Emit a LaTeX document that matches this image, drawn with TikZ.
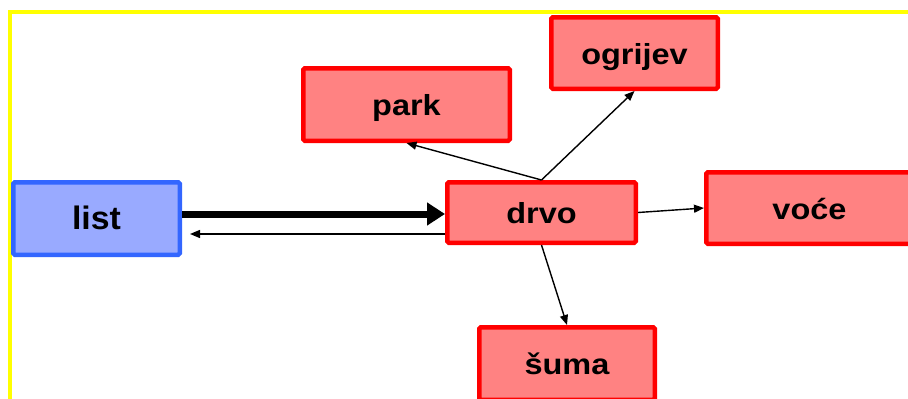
\documentclass[tikz,border=0pt]{standalone}
\usepackage{fontspec}
\setmainfont{Liberation Sans}
\newfontfamily\wordfont{Liberation Sans}[FakeStretch=1.12]
\newfontfamily\rootfont{Liberation Sans}[FakeStretch=1.04]
\usetikzlibrary{arrows.meta}
\definecolor{frameyellow}{HTML}{FFFF00}
\definecolor{boxred}{HTML}{FF0000}
\definecolor{fillred}{HTML}{FF8282}
\definecolor{boxblue}{HTML}{3366FF}
\definecolor{fillblue}{HTML}{99AAFF}
\tikzset{
  wordbox/.style={draw=boxred, fill=fillred, line width=4.5pt, rounded corners=1.5pt,
    inner sep=0pt, text height=26pt, text depth=4pt,
    font=\wordfont\fontsize{29}{29}\selectfont\bfseries},
  rootbox/.style={wordbox, draw=boxblue, fill=fillblue,
    font=\rootfont\fontsize{32.5}{32.5}\selectfont\bfseries},
  link/.style={line width=1.4pt, -{Triangle[length=10pt,width=8pt]}},
  mainlink/.style={line width=7pt, -{Triangle[length=18pt,width=22pt]}}
}
\begin{document}
\begin{tikzpicture}[x=1pt,y=-1pt]
  \useasboundingbox (0,0) rectangle (908,399);
  \clip (0,0) rectangle (908,399);
  % frame
  \draw[frameyellow, line width=4pt] (9.5,399) -- (9.5,12) -- (908,12);
  % boxes
  \node[rootbox, minimum width=166.5pt, minimum height=72.5pt] (list) at (96.5,218.5) {list};
  \node[wordbox, minimum width=188.5pt, minimum height=60.5pt] (drvo) at (541.5,212.5) {drvo};
  \node[wordbox, minimum width=206.5pt, minimum height=72.5pt] (park) at (406.5,104.5) {park};
  \node[wordbox, minimum width=166.5pt, minimum height=71.5pt] (ogrijev) at (634.5,53) {ogrijev};
  \node[wordbox, minimum width=206.5pt, minimum height=71.5pt] (voce) at (809.5,208) {voće};
  \node[wordbox, minimum width=175.5pt, minimum height=72.5pt] (suma) at (567,363.5) {šuma};
  % connectors
  \coordinate (fwd) at ([yshift=-1.5pt]drvo.west);
  \draw[mainlink] (list.east |- fwd) -- (fwd);
  \coordinate (back) at ([yshift=-21.5pt]drvo.west);
  \draw[link, shorten >=8pt] (back) -- (list.east |- back);
  \draw[link] (drvo.north) -- (park.south);
  \draw[link] (drvo.north) -- (ogrijev.south);
  \draw[link] (drvo.east) -- (voce.west);
  \draw[link] (drvo.south) -- (suma.north);
\end{tikzpicture}
\end{document}
